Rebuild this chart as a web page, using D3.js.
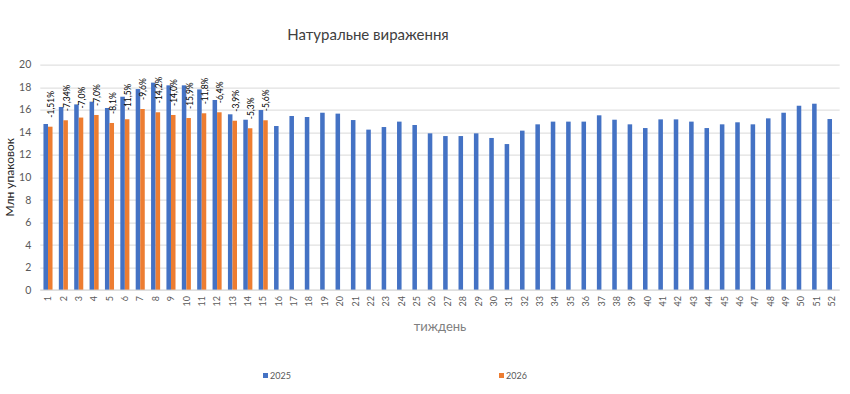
<!DOCTYPE html>
<html>
<head>
<meta charset="utf-8">
<script src="https://cdn.jsdelivr.net/npm/d3@7"></script>
<style>
  body { margin: 0; background: #fff; }
  svg { font-family: Lato, "Noto Sans", sans-serif; }
  .grid line { stroke: #d9d9d9; }
</style>
</head>
<body>
<div id="chart"></div>
<script>
// weeks and values (mln packs)
const weeks = d3.range(1, 53);
const values2025 = [14.73, 16.24, 16.47, 16.71, 16.15, 17.15, 17.83, 18.4, 18.16, 18.16,
  17.8, 16.86, 15.59, 15.11, 15.97, 14.55, 15.44, 15.35, 15.73, 15.65,
  15.08, 14.23, 14.46, 14.94, 14.64, 13.9, 13.66, 13.66, 13.9, 13.49,
  12.95, 14.14, 14.7, 14.94, 14.94, 14.94, 15.5, 15.11, 14.7, 14.37,
  15.14, 15.14, 14.94, 14.37, 14.7, 14.88, 14.7, 15.23, 15.73, 16.35,
  16.53, 15.17];
const values2026 = [14.49, 15.06, 15.3, 15.53, 14.82, 15.15, 16.06, 15.77, 15.53, 15.26,
  15.68, 15.77, 15.02, 14.35, 15.06];
const changeLabels = ["-1,51%", "-7,34%", "-7,0%", "-7,0%", "-8,1%", "-11,5%", "-9,6%", "-14,2%",
  "-14,0%", "-15,9%", "-11,8%", "-6,4%", "-3,9%", "-5,3%", "-5,6%"];
const yTicks = d3.range(0, 21, 2);

const width = 850, height = 394;
const margin = { top: 64.6, right: 10.3, bottom: 104, left: 40.3 };
const innerW = width - margin.left - margin.right;
const innerH = height - margin.top - margin.bottom;

const svg = d3.select("#chart").append("svg")
    .attr("width", width)
    .attr("height", height);

const g = svg.append("g")
    .attr("transform", `translate(${margin.left},${margin.top})`);

const x = d3.scaleBand().domain(weeks).range([0, innerW]).paddingInner(0.41).paddingOuter(0.205);
const xs = d3.scaleBand().domain(["2025", "2026"]).range([0, x.bandwidth()]);
const y = d3.scaleLinear().domain([0, 20]).range([innerH, 0]);

// gridlines
g.append("g").attr("class", "grid")
  .selectAll("line")
  .data(yTicks)
  .enter().append("line")
    .attr("x1", 0)
    .attr("x2", innerW)
    .attr("y1", d => Math.round(y(d)) + 0.5)
    .attr("y2", d => Math.round(y(d)) + 0.5);

// y tick labels
g.append("g").selectAll("text")
  .data(yTicks)
  .enter().append("text")
    .attr("x", -9)
    .attr("y", d => y(d))
    .attr("dy", ".35em")
    .attr("text-anchor", "end")
    .style("font-size", "10.5px")
    .style("fill", "#595959")
    .text(d => d);

// bars
g.append("g").selectAll("rect")
  .data(values2025)
  .enter().append("rect")
    .attr("x", (d, i) => x(weeks[i]) + xs("2025"))
    .attr("y", d => y(d))
    .attr("width", xs.bandwidth())
    .attr("height", d => innerH - y(d))
    .style("fill", "#4472c4");

g.append("g").selectAll("rect")
  .data(values2026)
  .enter().append("rect")
    .attr("x", (d, i) => x(weeks[i]) + xs("2026"))
    .attr("y", d => y(d))
    .attr("width", xs.bandwidth())
    .attr("height", d => innerH - y(d))
    .style("fill", "#ed7d31");

// change labels (rotated)
g.append("g").selectAll("text")
  .data(changeLabels)
  .enter().append("text")
    .attr("transform", (d, i) => {
      const cx = x(weeks[i]) + xs("2026") + xs.bandwidth() / 2 + 1;
      const cy = y(values2026[i]) - 9;
      return `translate(${cx},${cy}) rotate(-90)`;
    })
    .attr("dy", ".35em")
    .attr("text-anchor", "start")
    .style("font-size", "8.5px")
    .style("fill", "#000")
    .text(d => d);

// axis line
g.append("line")
  .attr("x1", 0).attr("x2", innerW)
  .attr("y1", Math.round(innerH) + 0.5).attr("y2", Math.round(innerH) + 0.5)
  .style("stroke", "#d9d9d9");

// x tick labels
g.append("g").selectAll("text")
  .data(weeks)
  .enter().append("text")
    .attr("transform", d => `translate(${x(d) + x.bandwidth() / 2},${innerH + 6}) rotate(-90)`)
    .attr("dy", ".35em")
    .attr("text-anchor", "end")
    .style("font-size", "9px")
    .style("fill", "#595959")
    .text(d => d);

// titles
svg.append("text")
  .attr("x", 368).attr("y", 40)
  .attr("text-anchor", "middle")
  .style("font-size", "15px")
  .style("fill", "#404040")
  .text("Натуральне вираження");

svg.append("text")
  .attr("transform", `translate(14,${margin.top + innerH / 2}) rotate(-90)`)
  .attr("text-anchor", "middle")
  .style("font-size", "12px")
  .style("fill", "#262626")
  .text("Млн упаковок");

svg.append("text")
  .attr("x", 440).attr("y", 331)
  .attr("text-anchor", "middle")
  .style("font-size", "13px")
  .style("fill", "#7f7f7f")
  .text("тиждень");

// legend
const legend = svg.append("g").selectAll("g")
  .data([{ name: "2025", color: "#4472c4", x: 263 }, { name: "2026", color: "#ed7d31", x: 499 }])
  .enter().append("g")
    .attr("transform", d => `translate(${d.x},373)`);

legend.append("rect")
  .attr("width", 5).attr("height", 5)
  .style("fill", d => d.color);

legend.append("text")
  .attr("x", 7).attr("y", 2.5)
  .attr("dy", ".35em")
  .style("font-size", "9px")
  .style("fill", "#595959")
  .text(d => d.name);
</script>
</body>
</html>
